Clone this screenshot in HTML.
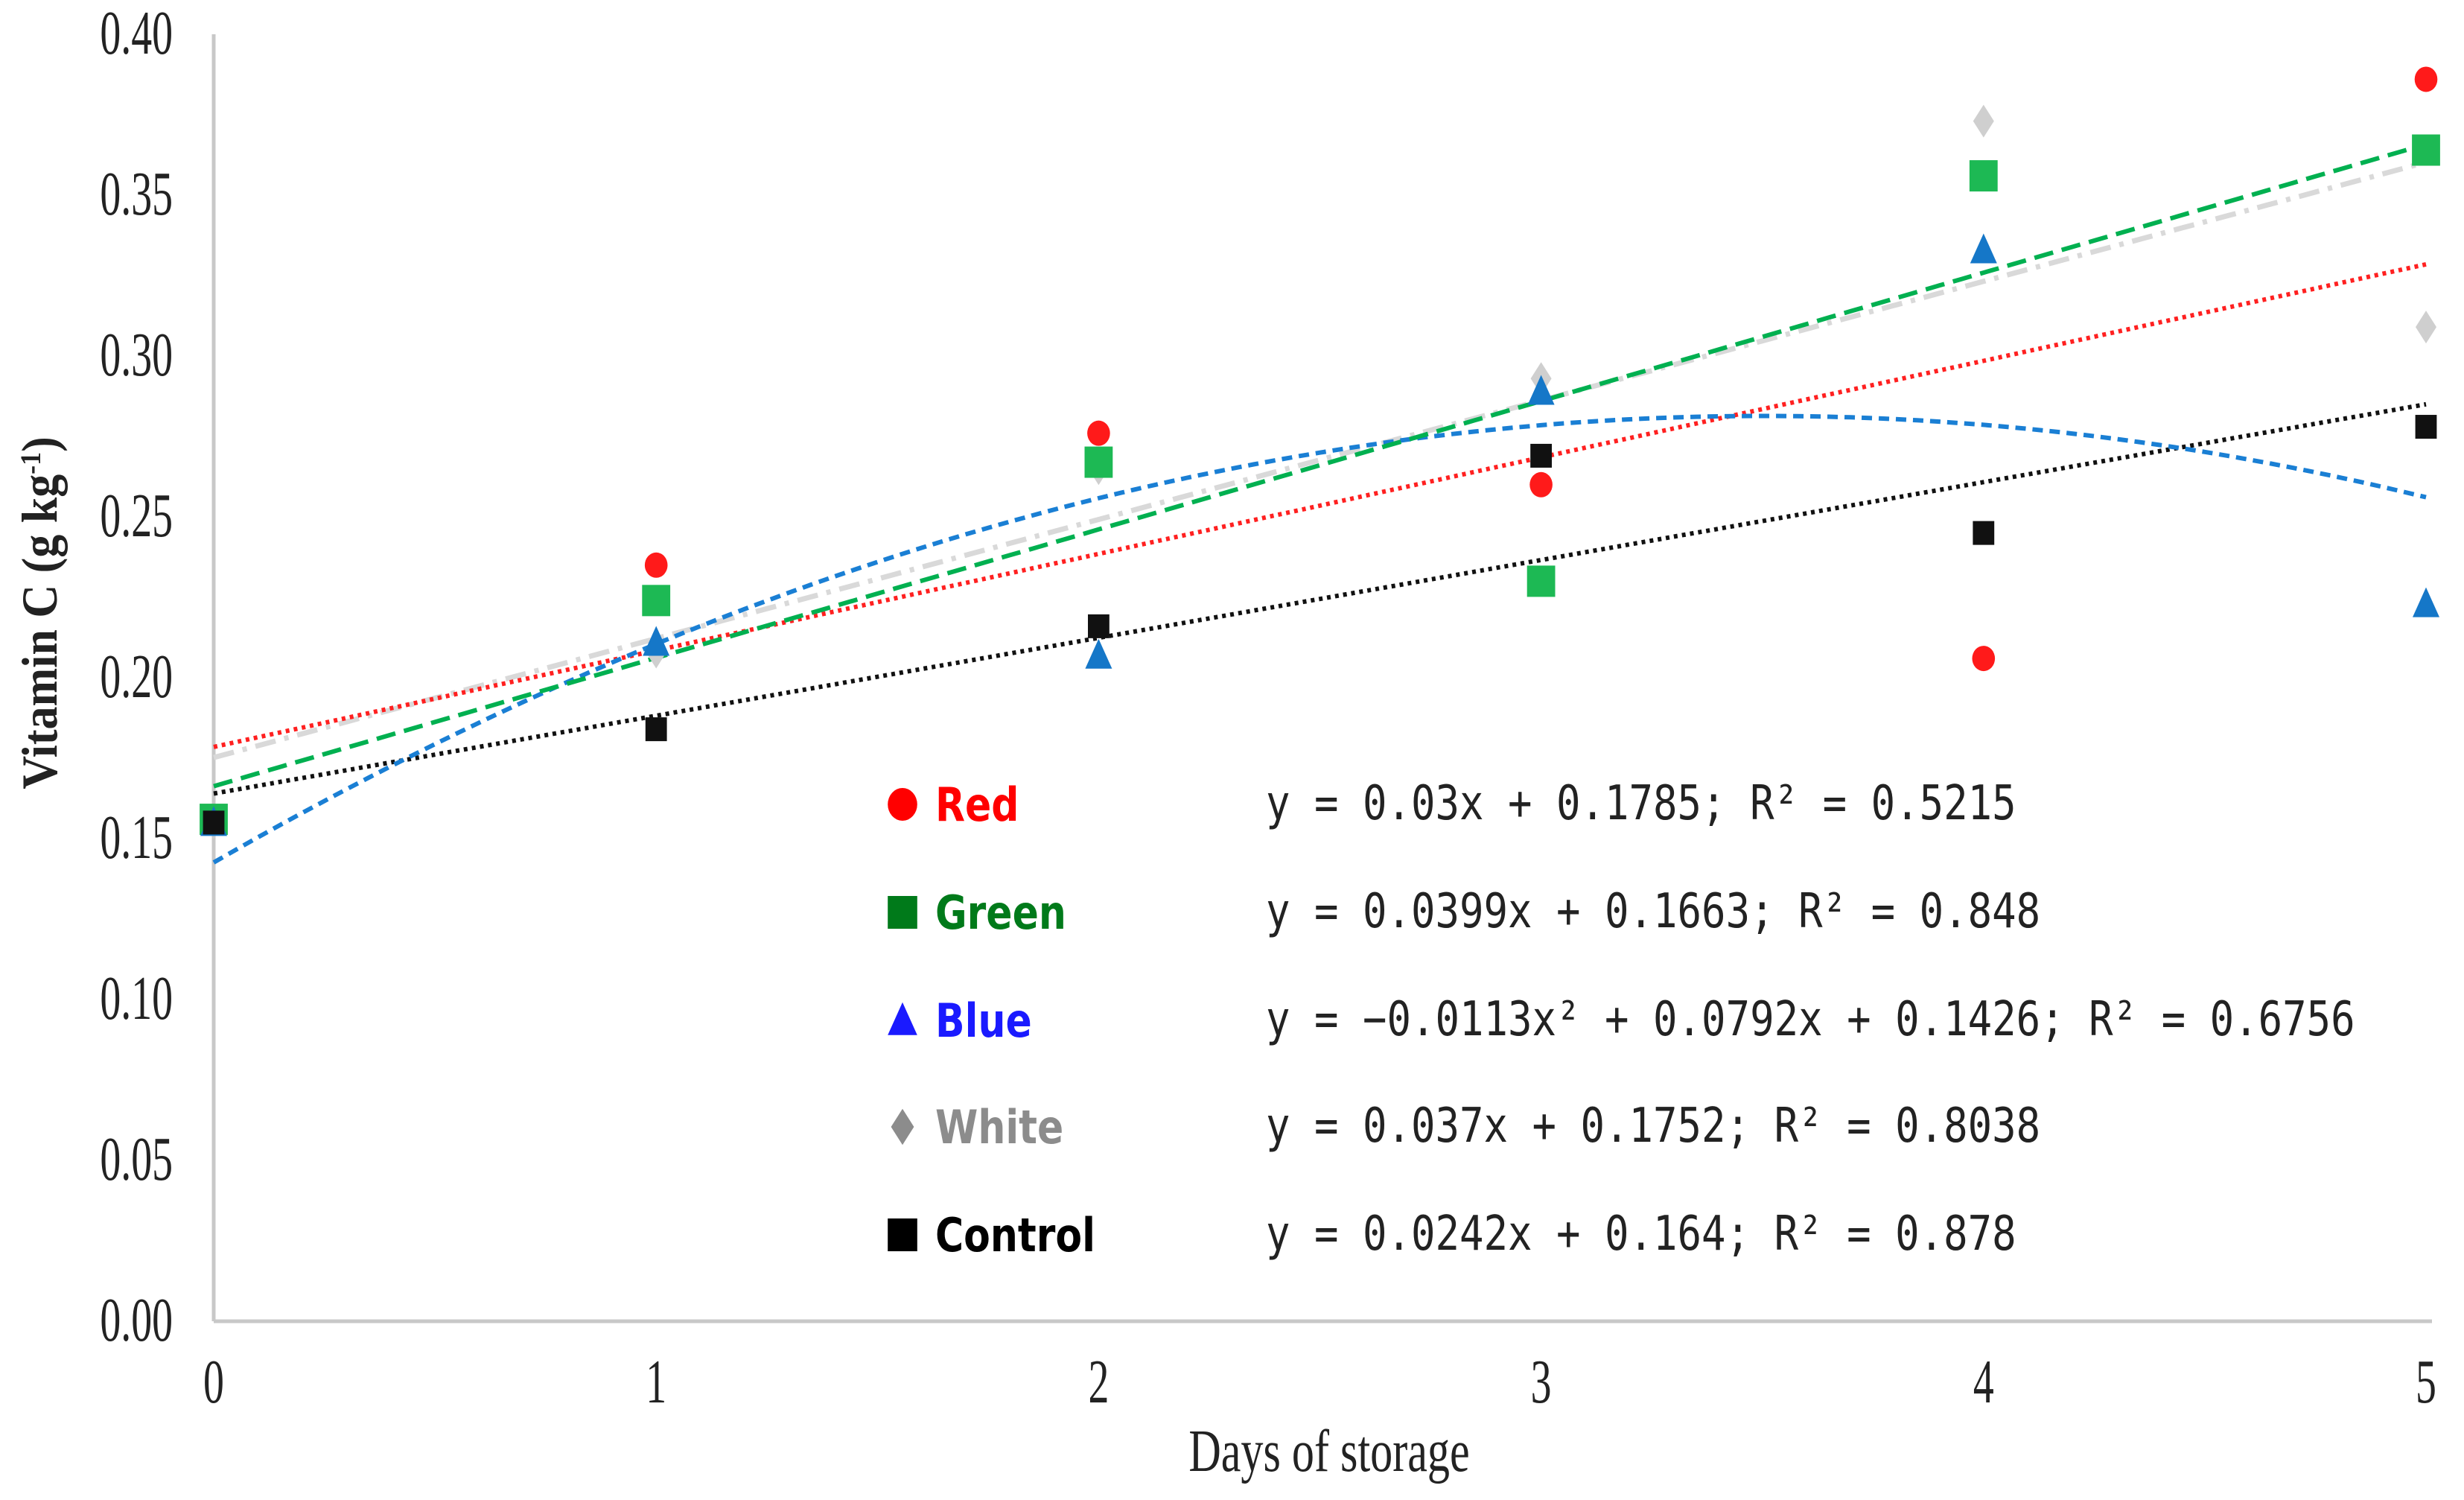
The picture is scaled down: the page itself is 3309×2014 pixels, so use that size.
<!DOCTYPE html>
<html><head><meta charset="utf-8"><style>
html,body{margin:0;padding:0;background:#fff;}
svg{display:block;}
</style></head><body>
<svg id="chart" width="3309" height="2014" viewBox="0 0 3309 2014" xmlns="http://www.w3.org/2000/svg">
<rect width="3309" height="2014" fill="#fff"/>
<g id="axes"></g>
<g id="trends"></g>
<g id="marks"></g>
<g id="legend"></g>
</svg>
<script>
const days = [0, 1, 2, 3, 4, 5];
const yTicks = [0, 0.05, 0.10, 0.15, 0.20, 0.25, 0.30, 0.35, 0.40];
const yTickLabels = ["0.00","0.05","0.10","0.15","0.20","0.25","0.30","0.35","0.40"];
const xTickLabels = ["0","1","2","3","4","5"];
const redValues = [0.155, 0.235, 0.276, 0.260, 0.206, 0.386];
const greenValues = [0.156, 0.224, 0.267, 0.230, 0.356, 0.364];
const blueValues = [0.155, 0.211, 0.207, 0.289, 0.333, 0.223];
const whiteValues = [0.155, 0.208, 0.265, 0.293, 0.373, 0.309];
const controlValues = [0.155, 0.184, 0.216, 0.269, 0.245, 0.278];
const redCoef = [0.1785, 0.03, 0];
const greenCoef = [0.1663, 0.0399, 0];
const blueCoef = [0.1426, 0.0792, -0.0113];
const whiteCoef = [0.1752, 0.037, 0];
const controlCoef = [0.164, 0.0242, 0];
const legendNames = ["Red","Green","Blue","White","Control"];
const legendEquations = [
 "y = 0.03x + 0.1785; R² = 0.5215",
 "y = 0.0399x + 0.1663; R² = 0.848",
 "y = −0.0113x² + 0.0792x + 0.1426; R² = 0.6756",
 "y = 0.037x + 0.1752; R² = 0.8038",
 "y = 0.0242x + 0.164; R² = 0.878"];

const NS = "http://www.w3.org/2000/svg";
const X0 = 287, XW = 594.2, Y0 = 1774, YS = 4320;
function xs(d){ return X0 + d * XW; }
function ys(v){ return Y0 - v * YS; }
function mk(tag, attrs, parent){
  const e = document.createElementNS(NS, tag);
  for (const k in attrs) e.setAttribute(k, attrs[k]);
  parent.appendChild(e); return e;
}
const axes = document.getElementById('axes');
const trends = document.getElementById('trends');
const marks = document.getElementById('marks');
const legend = document.getElementById('legend');

let ya = mk('line', {x1:X0, y1:ys(0.4), x2:X0, y2:Y0, stroke:'#c8c8c8', 'stroke-width':5}, axes);


let xa = mk('line', {x1:X0, y1:Y0, x2:xs(5)+8, y2:Y0, stroke:'#c8c8c8', 'stroke-width':5}, axes);



yTicks.forEach((v, i) => {
  const t = mk('text', {x:0, y:0, 'font-family':'"Liberation Serif", serif', 'font-size':62, fill:'#222', 'text-anchor':'end',
    transform:`translate(232,${ys(v)+26}) scale(0.9,1.35)`}, axes);
  t.textContent = yTickLabels[i];
  
  
});
days.forEach((d, i) => {
  const t = mk('text', {x:0, y:0, 'font-family':'"Liberation Serif", serif', 'font-size':62, fill:'#222', 'text-anchor':'middle',
    transform:`translate(${xs(d)},${1883}) scale(0.9,1.35)`}, axes);
  t.textContent = xTickLabels[i];
  
  
});
let xt = mk('text', {x:0, y:0, 'font-family':'"Liberation Serif", serif', 'font-size':62, fill:'#222', 'text-anchor':'middle',
  transform:'translate(1785,1975) scale(0.97,1.3)'}, axes);
xt.textContent = 'Days of storage';


let ytl = mk('text', {x:0, y:0, 'font-family':'"Liberation Serif", serif', 'font-size':62, 'font-weight':'bold', fill:'#222', 'text-anchor':'middle',
  transform:'translate(76,823) rotate(-90) scale(1.0,1.1)'}, axes);
ytl.innerHTML = 'Vitamin C (g kg<tspan baseline-shift="super" font-size="36">-1</tspan>)';



function trend(coef, color, dash, w, name){
  let pts = [];
  for (let i = 0; i <= 100; i++){
    const d = 5 * i / 100;
    const v = coef[0] + coef[1]*d + coef[2]*d*d;
    pts.push(xs(d).toFixed(1) + ',' + ys(v).toFixed(1));
  }
  const p = mk('polyline', {points:pts.join(' '), fill:'none', stroke:color, 'stroke-width':w, 'stroke-dasharray':dash}, trends);
  
  
}
trend(whiteCoef, '#d9d9d9', '28,12,6,12', 7, 'white-trendline');
trend(redCoef, '#ff2020', '5,6', 6, 'red-trendline');
trend(controlCoef, '#111', '5,6', 6, 'control-trendline');
trend(blueCoef, '#1a7fd4', '14,9', 6, 'blue-trendline');
trend(greenCoef, '#00b050', '26,12', 6, 'green-trendline');

function marker(shape, cx, cy, color, size, parent, name){
  let e;
  if (shape === 'circle') e = mk('ellipse', {cx, cy, rx:size*0.45, ry:size*0.5, fill:color}, parent);
  else if (shape === 'square') e = mk('rect', {x:cx-size*0.45, y:cy-size*0.5, width:size*0.9, height:size, fill:color}, parent);
  else if (shape === 'triangle') e = mk('polygon', {points:`${cx},${cy-size*0.55} ${cx+size*0.45},${cy+size*0.45} ${cx-size*0.45},${cy+size*0.45}`, fill:color}, parent);
  else e = mk('polygon', {points:`${cx},${cy-size*0.55} ${cx+size*0.35},${cy} ${cx},${cy+size*0.55} ${cx-size*0.35},${cy}`, fill:color}, parent);
  
  
}
function series(vals, shape, color, size, name){
  vals.forEach((v, i) => marker(shape, xs(days[i]), ys(v), color, size, marks, name));
}
series(whiteValues, 'diamond', '#cfcfcf', 40, 'white-point');
series(redValues, 'circle', '#ff1a1a', 34, 'red-point');
series(greenValues, 'square', '#1db954', 42, 'green-point');
series(blueValues, 'triangle', '#1577c8', 40, 'blue-point');
series(controlValues, 'square', '#111', 32, 'control-point');

const legShapes = ['circle','square','triangle','diamond','square'];
const legMarkColors = ['#ff0000','#007a1a','#1a1aff','#8c8c8c','#000'];
const legTextColors = ['#ff0000','#007a1a','#1a1aff','#8c8c8c','#000'];
const legY = [1080, 1225, 1370, 1513, 1658];
legendNames.forEach((n, i) => {
  marker(legShapes[i], 1212, legY[i], legMarkColors[i], 44, legend, 'legend-marker-' + n.toLowerCase());
  const t = mk('text', {x:0, y:0, 'font-family':'"DejaVu Sans", sans-serif', 'font-weight':'bold', 'font-size':52, fill:legTextColors[i],
    transform:`translate(1256,${legY[i]+22}) scale(1.0,1.2)`}, legend);
  t.textContent = n;
  
  
  const e = mk('text', {x:0, y:0, 'font-family':'"DejaVu Sans Mono", monospace', 'font-size':54, fill:'#222',
    transform:`translate(1700,${legY[i]+20}) scale(1,1.18)`}, legend);
  e.textContent = legendEquations[i];
  
  
});
</script>
</body></html>
